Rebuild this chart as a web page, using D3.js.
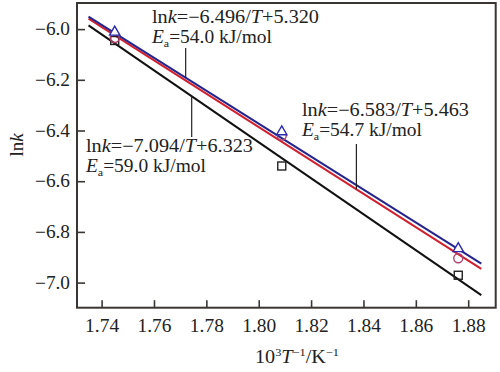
<!DOCTYPE html>
<html>
<head>
<meta charset="utf-8">
<script src="https://cdn.jsdelivr.net/npm/d3@7"></script>
<style>
  body { margin: 0; background: #fff; }
  svg text { font-family: "Liberation Serif", "Times New Roman", serif; fill: #222; }
  .axis path { display: none; }
  .axis line { stroke: #3a3633; stroke-width: 1.6; }
  .axis text { font-size: 18px; }
  .frame { fill: none; stroke: #3a3633; stroke-width: 2; }
  .fit { fill: none; stroke-width: 2; }
  .leader { stroke: #222; stroke-width: 1.2; }
</style>
</head>
<body>
<svg id="svg" width="500" height="372"></svg>
<script>
// measured points, 10^3/T vs ln k
const invT = [1.745, 1.8088, 1.8762];
const lnkTri = [-6.012, -6.405, -6.866];
const lnkCircle = [-6.035, -6.42, -6.904];
const lnkSquare = [-6.045, -6.540, -6.971];

// fitted lines: ln k = slope * x + intercept
const fits = [
  {name: "black", slope: -7.094, intercept: 6.323, color: "#111"},
  {name: "red", slope: -6.583, intercept: 5.463, color: "#d0202e"},
  {name: "blue", slope: -6.496, intercept: 5.320, color: "#24248c"}
];
const fitRange = [1.735, 1.885];

const xTicks = [1.74, 1.76, 1.78, 1.80, 1.82, 1.84, 1.86, 1.88];
const yTicks = [-6.0, -6.2, -6.4, -6.6, -6.8, -7.0];

const svg = d3.select("svg#svg");

const plot = {left: 77, right: 495.7, top: 3, bottom: 307.7};

const x = d3.scaleLinear().domain([1.7306, 1.8905]).range([plot.left, plot.right]);
const y = d3.scaleLinear().domain([-5.897, -7.099]).range([plot.top, plot.bottom]);

var translate = function(a, b) {
  return "translate(" + a + ", " + b + ")";
}

// the picture's glyphs are wider than Liberation Serif, so fix text widths
var widen = function(sel, len) {
  sel.attr("textLength", len).attr("lengthAdjust", "spacingAndGlyphs");
}

svg.append("rect")
  .attr("class", "frame")
  .attr("x", plot.left)
  .attr("y", plot.top)
  .attr("width", plot.right - plot.left)
  .attr("height", plot.bottom - plot.top);

let xAxis = svg.append("g")
  .attr("class", "axis")
  .attr("transform", translate(0, plot.bottom))
  .call(d3.axisBottom(x).tickValues(xTicks).tickFormat(d3.format(".2f"))
    .tickSizeInner(-7.5).tickSizeOuter(0).tickPadding(12));
widen(xAxis.selectAll("text"), 34);

let yAxis = svg.append("g")
  .attr("class", "axis")
  .attr("transform", translate(plot.left, 0))
  .call(d3.axisLeft(y).tickValues(yTicks).tickFormat(d3.format(".1f"))
    .tickSizeInner(-8).tickSizeOuter(0).tickPadding(7));
widen(yAxis.selectAll("text"), 35);

// fit lines
const line = d3.line().x(d => x(d[0])).y(d => y(d[1]));
svg.selectAll("path.fit")
  .data(fits)
  .enter()
  .append("path")
  .attr("class", "fit")
  .attr("stroke", d => d.color)
  .attr("d", d => line(fitRange.map(v => [v, d.slope * v + d.intercept])));

// markers
svg.selectAll("rect.sq")
  .data(invT)
  .enter()
  .append("rect")
  .attr("class", "sq")
  .attr("x", (d, i) => x(d) - 4)
  .attr("y", (d, i) => y(lnkSquare[i]) - 4)
  .attr("width", 8)
  .attr("height", 8)
  .attr("fill", "none")
  .attr("stroke", "#222")
  .attr("stroke-width", 1.4);

svg.selectAll("circle.pt")
  .data(invT)
  .enter()
  .append("circle")
  .attr("class", "pt")
  .attr("cx", d => x(d))
  .attr("cy", (d, i) => y(lnkCircle[i]))
  .attr("r", 4.5)
  .attr("fill", "none")
  .attr("stroke", "#b0406e")
  .attr("stroke-width", 1.4);

const tri = d3.symbol().type(d3.symbolTriangle).size(46);
svg.selectAll("path.tri")
  .data(invT)
  .enter()
  .append("path")
  .attr("class", "tri")
  .attr("d", tri)
  .attr("transform", (d, i) => translate(x(d), y(lnkTri[i])))
  .attr("fill", "#fff")
  .attr("stroke", "#2a2ab0")
  .attr("stroke-width", 1.4);

// annotations
var label = function(px, py, fit, ea) {
  let eq = svg.append("text").attr("x", px).attr("y", py).style("font-size", "18px");
  eq.append("tspan").text("ln");
  eq.append("tspan").style("font-style", "italic").text("k");
  eq.append("tspan").text("=\u2212" + d3.format(".3f")(-fit.slope) + "/");
  eq.append("tspan").style("font-style", "italic").text("T");
  eq.append("tspan").text("+" + d3.format(".3f")(fit.intercept));
  widen(eq, 167);

  let e = svg.append("text").attr("x", px).attr("y", py + 20).style("font-size", "18px");
  e.append("tspan").style("font-style", "italic").text("E");
  e.append("tspan").attr("dy", 4).style("font-size", "11px").text("a");
  e.append("tspan").attr("dy", -4).text("=" + ea + " kJ/mol");
  widen(e, 120);
}

label(152, 23, fits[2], "54.0");
label(86, 152, fits[0], "59.0");
label(302, 116, fits[1], "54.7");

var leader = function(xv, fit, yEnd) {
  svg.append("line")
    .attr("class", "leader")
    .attr("x1", x(xv)).attr("x2", x(xv))
    .attr("y1", y(fit.slope * xv + fit.intercept))
    .attr("y2", yEnd);
}

leader(1.7721, fits[2], 48);
leader(1.7744, fits[0], 137);
leader(1.8373, fits[1], 144);

// axis titles
svg.append("text")
  .attr("transform", translate(23, 145) + " rotate(-90)")
  .attr("text-anchor", "middle")
  .style("font-size", "19px")
  .call(t => {
    t.append("tspan").text("ln");
    t.append("tspan").style("font-style", "italic").text("k");
  });

let xt = svg.append("text")
  .attr("x", 255)
  .attr("y", 363)
  .style("font-size", "18px");
xt.append("tspan").text("10");
xt.append("tspan").attr("dy", -7).style("font-size", "11px").text("3");
xt.append("tspan").attr("dy", 7).style("font-style", "italic").text("T");
xt.append("tspan").attr("dy", -7).style("font-size", "11px").text("\u22121");
xt.append("tspan").attr("dy", 7).text("/K");
xt.append("tspan").attr("dy", -7).style("font-size", "11px").text("\u22121");
widen(xt, 84);
</script>
</body>
</html>
